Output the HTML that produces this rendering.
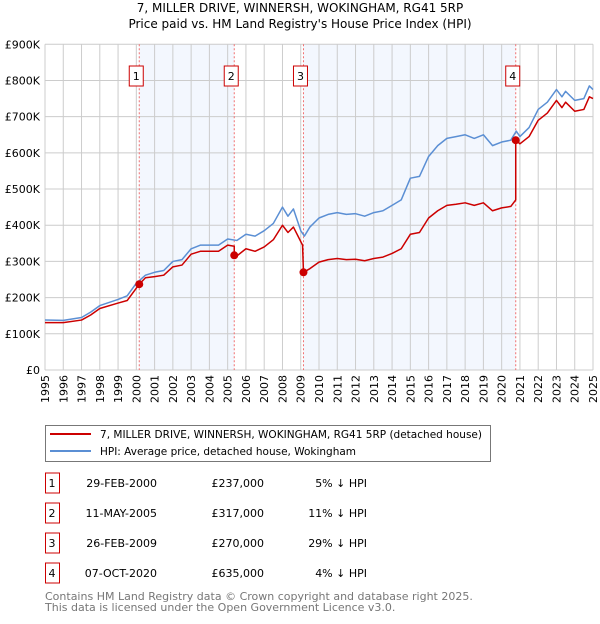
<!DOCTYPE html>
<html><head><meta charset="utf-8"><style>
body{margin:0;background:#fff;font-family:"DejaVu Sans","Liberation Sans",sans-serif;}
svg text{font-family:"DejaVu Sans","Liberation Sans",sans-serif;}
</style></head><body>
<svg id="c" width="600" height="620" xmlns="http://www.w3.org/2000/svg">
<text x="300" y="12" text-anchor="middle" font-size="12">7, MILLER DRIVE, WINNERSH, WOKINGHAM, RG41 5RP</text>
<text x="300" y="28" text-anchor="middle" font-size="12">Price paid vs. HM Land Registry's House Price Index (HPI)</text>
<g id="shade"></g><g id="grid"></g><g id="series"></g><g id="marks"></g>
<rect x="45.5" y="425.5" width="445" height="36" fill="#fff" stroke="#777"/>
<line x1="50" y1="434" x2="91" y2="434" stroke="#cc0000" stroke-width="2"/>
<text x="100" y="438" font-size="10.5" textLength="382" lengthAdjust="spacingAndGlyphs">7, MILLER DRIVE, WINNERSH, WOKINGHAM, RG41 5RP (detached house)</text>
<line x1="50" y1="451" x2="91" y2="451" stroke="#5b8fd4" stroke-width="2"/>
<text x="100" y="455" font-size="10.5" textLength="256" lengthAdjust="spacingAndGlyphs">HPI: Average price, detached house, Wokingham</text>
<g id="table"></g>
<text x="45" y="600" font-size="11" fill="#777">Contains HM Land Registry data © Crown copyright and database right 2025.</text>
<text x="45" y="611" font-size="11" fill="#777">This data is licensed under the Open Government Licence v3.0.</text>
</svg>
<script>
const hpiYears=[1995,1996,1997,1997.5,1998,1999,1999.5,2000,2000.5,2001,2001.5,2002,2002.5,2003,2003.5,2004,2004.5,2005,2005.5,2006,2006.5,2007,2007.5,2008,2008.3,2008.6,2009,2009.2,2009.5,2010,2010.5,2011,2011.5,2012,2012.5,2013,2013.5,2014,2014.5,2015,2015.5,2016,2016.5,2017,2017.5,2018,2018.5,2019,2019.5,2020,2020.5,2020.8,2021,2021.5,2022,2022.5,2023,2023.3,2023.5,2024,2024.5,2024.8,2025];
const hpiValues=[138,137,145,160,178,195,205,240,262,270,275,300,305,335,345,345,345,362,358,375,370,385,405,450,425,445,385,370,395,420,430,435,430,432,425,435,440,455,470,530,535,590,620,640,645,650,640,650,620,630,635,660,645,670,720,740,775,755,770,745,750,785,775];
const priceYears=[1995,1996,1997,1997.5,1998,1999,1999.5,2000.16,2000.5,2001,2001.5,2002,2002.5,2003,2003.5,2004,2004.5,2005,2005.36,2005.36,2005.5,2006,2006.5,2007,2007.5,2008,2008.3,2008.6,2009.1,2009.15,2009.5,2010,2010.5,2011,2011.5,2012,2012.5,2013,2013.5,2014,2014.5,2015,2015.5,2016,2016.5,2017,2017.5,2018,2018.5,2019,2019.5,2020,2020.5,2020.77,2020.77,2021,2021.5,2022,2022.5,2023,2023.3,2023.5,2024,2024.5,2024.8,2025];
const priceValues=[131,131,138,152,170,185,192,237,255,258,262,285,290,320,328,328,328,345,342,317,315,335,328,340,360,400,380,395,345,270,280,298,305,308,305,306,302,308,312,322,335,375,380,420,440,455,458,462,455,462,440,448,452,470,635,625,645,690,710,745,725,740,715,720,755,750];
const saleLabels=["1","2","3","4"];
const saleYears=[2000.16,2005.36,2009.15,2020.77];
const salePrices=[237,317,270,635];
const saleDates=["29-FEB-2000","11-MAY-2005","26-FEB-2009","07-OCT-2020"];
const salePriceText=["£237,000","£317,000","£270,000","£635,000"];
const saleHpiText=["5% ↓ HPI","11% ↓ HPI","29% ↓ HPI","4% ↓ HPI"];
const yTicks=[0,100,200,300,400,500,600,700,800,900];
const yTickLabels=["£0","£100K","£200K","£300K","£400K","£500K","£600K","£700K","£800K","£900K"];
const xTicks=[1995,1996,1997,1998,1999,2000,2001,2002,2003,2004,2005,2006,2007,2008,2009,2010,2011,2012,2013,2014,2015,2016,2017,2018,2019,2020,2021,2022,2023,2024,2025];

const NS="http://www.w3.org/2000/svg";
const X0=45,X1=593,Y0=370,Y1=44.3;
const x=v=>X0+(v-1995)/30*(X1-X0);
const y=v=>Y0-v/900*(Y0-Y1);
function mk(tag,attrs,parent){const e=document.createElementNS(NS,tag);for(const k in attrs)e.setAttribute(k,attrs[k]);document.getElementById(parent).appendChild(e);return e;}
for(let i=0;i<saleYears.length;i+=2){
 const r=mk('rect',{x:x(saleYears[i]),y:Y1,width:x(saleYears[i+1])-x(saleYears[i]),height:Y0-Y1,fill:'#eef3fd',opacity:0.7},'shade');
 
 
}
xTicks.forEach(t=>{
 const l=mk('line',{x1:x(t),x2:x(t),y1:Y1,y2:Y0,stroke:'#ccc','stroke-width':1},'grid');
 
 
 const tx=mk('text',{x:0,y:0,'font-size':11,'text-anchor':'end',transform:`translate(${x(t)+4},${Y0+5}) rotate(-90)`},'grid');
 tx.textContent=t;
 
 
});
yTicks.forEach((t,i)=>{
 const l=mk('line',{x1:X0,x2:X1,y1:y(t),y2:y(t),stroke:'#ccc','stroke-width':1},'grid');
 
 
 const tx=mk('text',{x:40,y:y(t)+4,'font-size':11,'text-anchor':'end'},'grid');
 tx.textContent=yTickLabels[i];
 
 
});
saleYears.forEach((s,i)=>{
 const l=mk('line',{x1:x(s),x2:x(s),y1:Y1,y2:Y0,stroke:'#f07070','stroke-width':1,'stroke-dasharray':'2,2'},'grid');
 
 
 const b=mk('rect',{x:x(s)-10,y:66,width:14,height:20,fill:'#fff',stroke:'#cc0000'},'grid');
 
 
 const t=mk('text',{x:x(s)-3,y:80,'font-size':11,'text-anchor':'middle'},'grid');
 t.textContent=saleLabels[i];
 
 
});
function line(xs,vs,color,name){
 const p=mk('polyline',{points:xs.map((a,i)=>x(a)+','+y(vs[i])).join(' '),fill:'none',stroke:color,'stroke-width':1.5,'stroke-linejoin':'round'},'series');
 
 
}
line(hpiYears,hpiValues,'#5b8fd4','hpi-line');
line(priceYears,priceValues,'#cc0000','price-line');
saleYears.forEach((s,i)=>{
 const c=mk('circle',{cx:x(s),cy:y(salePrices[i]),r:4,fill:'#cc0000'},'marks');
 
 
});
saleYears.forEach((s,i)=>{
 const cy=483+i*30;
 const b=mk('rect',{x:45.5,y:cy-10,width:14,height:20,fill:'#fff',stroke:'#cc0000'},'table');
 
 
 const cells=[[52,'middle',saleLabels[i],'table-row-number'],[157,'end',saleDates[i],'table-sale-date'],[264,'end',salePriceText[i],'table-sale-price'],[367,'end',saleHpiText[i],'table-hpi-diff']];
 cells.forEach(c=>{
  const t=mk('text',{x:c[0],y:cy+4,'font-size':11,'text-anchor':c[1]},'table');
  t.textContent=c[2];
  
  
 });
});
</script>
</body></html>
